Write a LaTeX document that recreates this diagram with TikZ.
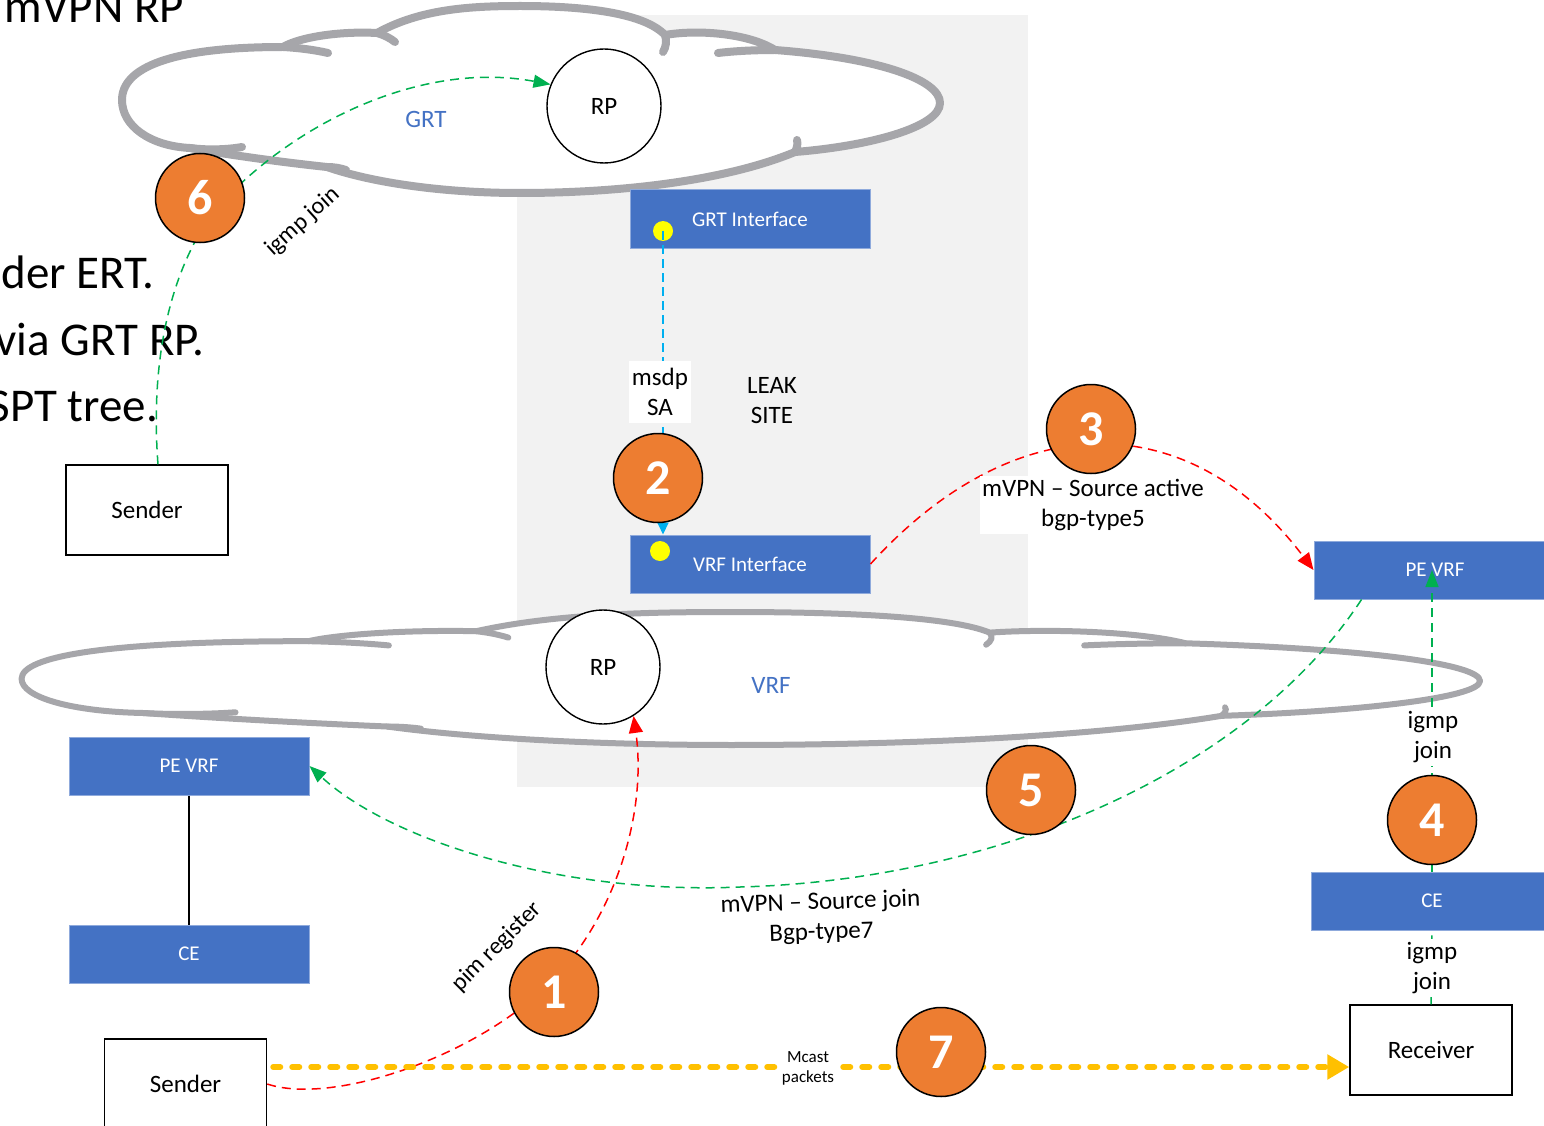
\documentclass[tikz,border=0pt]{standalone}
\usepackage{fontspec}
\setmainfont{Carlito}
\usetikzlibrary{arrows.meta}

\definecolor{boxblue}{HTML}{4472C4}
\definecolor{boxedge}{HTML}{8FAADC}
\definecolor{numorange}{HTML}{ED7D31}
\definecolor{cloudgray}{HTML}{A6A6AA}
\definecolor{leakbg}{HTML}{F2F2F2}
\definecolor{joingreen}{HTML}{00B050}
\definecolor{msdpblue}{HTML}{00B0F0}
\definecolor{mcastyellow}{HTML}{FFC000}
\definecolor{dotyellow}{HTML}{FFFF00}

% Cloud outline with its inner curls; drawn in its own frame (120..940 x 6..193)
\newcommand\cloudbody[1]{%
  \draw[draw=cloudgray, fill=white, line width=#1, line join=round]
    (190,148) .. controls (150,146) and (122,126) .. (122,100)
    .. controls (122,68) and (170,47) .. (283,47)
    .. controls (300,37) and (340,31) .. (377,33)
    .. controls (420,9) and (470,6) .. (520,6)
    .. controls (590,6) and (645,14) .. (665,35)
    .. controls (700,29) and (750,34) .. (775,50)
    .. controls (880,58) and (940,80) .. (940,103)
    .. controls (940,127) and (870,146) .. (795,152)
    .. controls (720,183) and (610,193) .. (520,193)
    .. controls (440,193) and (370,182) .. (327,167)
    .. controls (280,162) and (230,155) .. cycle;
  \draw[draw=cloudgray, line width=#1, line cap=round]
    (190,148) .. controls (205,150) and (225,150) .. (242,147)
    (283,47) .. controls (300,48) and (315,50) .. (328,53)
    (377,33) .. controls (384,35) and (390,38) .. (395,42)
    (665,35) .. controls (667,41) and (666,47) .. (663,52)
    (775,50) .. controls (755,50) and (735,51) .. (718,53)
    (795,152) .. controls (797,148) and (798,144) .. (797,140)
    (327,167) .. controls (334,167) and (340,168) .. (346,170);
}

\tikzset{
  numc/.style={circle, draw=black, line width=1.5pt, fill=numorange, minimum size=89pt,
    inner sep=0pt, text=white, font=\fontsize{50}{50}\selectfont\bfseries},
  rpc/.style={circle, draw=black, line width=1.4pt, fill=white, minimum size=114pt,
    inner sep=0pt, font=\fontsize{25}{30}\selectfont},
  bluebox/.style={rectangle, draw=boxedge, line width=1pt, fill=boxblue, text=white,
    minimum width=240pt, minimum height=58pt, inner sep=0pt, font=\fontsize{21}{25}\selectfont},
  plainbox/.style={rectangle, draw=black, line width=1.5pt, fill=white, minimum width=162pt,
    minimum height=90pt, inner sep=0pt, font=\fontsize{25}{30}\selectfont},
  lbl/.style={align=center, inner sep=0pt, font=\fontsize{25}{30}\selectfont},
  bglbl/.style={lbl, fill=white, inner xsep=2pt, inner ysep=3pt},
  bigtext/.style={anchor=base east, inner sep=0pt, font=\fontsize{47}{56}\selectfont},
  ydot/.style={circle, fill=dotyellow, minimum size=20pt, inner sep=0pt},
  redflow/.style={draw=red, line width=1.5pt, dash pattern=on 9pt off 6pt,
    -{Triangle[length=17pt,width=14pt]}},
  greenflow/.style={draw=joingreen, line width=1.5pt, dash pattern=on 9pt off 6pt,
    -{Triangle[length=17pt,width=13pt]}},
  greenplain/.style={draw=joingreen, line width=1.5pt, dash pattern=on 9pt off 6pt},
  msdpflow/.style={draw=msdpblue, line width=2pt, dash pattern=on 9pt off 5pt,
    -{Triangle[length=12pt,width=11pt]}},
  mcastflow/.style={draw=mcastyellow, line width=6pt, line cap=round, dash pattern=on 7pt off 12pt,
    -{Triangle[length=22pt,width=24pt]}},
}

\begin{document}
\begin{tikzpicture}[x=1pt, y=-1pt]
\useasboundingbox (0,0) rectangle (1544,1126);

% leak site backdrop
\fill[leakbg] (517,15) rectangle (1028,787);

% clouds
\cloudbody{8pt}
\begin{scope}[shift={(18,612)}, xscale=1.78293, yscale=0.7112, shift={(-120,-6)}]
  \cloudbody{6pt}
\end{scope}

% side text
\node[bigtext] (t0) at (184,23) {mVPN RP};
\node[bigtext] (t1) at (155,288) {der ERT.};
\node[bigtext] (t2) at (205,355) {via GRT RP.};
\node[bigtext] (t3) at (158,421) {SPT tree.};

% boxes
\node[bluebox] (grtint) at (750,219) {GRT Interface};
\node[bluebox] (vrfint) at (750,564) {VRF Interface};
\node[bluebox, minimum width=242pt] (pevrfR) at (1435,570) {PE VRF};
\node[bluebox, minimum width=242pt] (ceR) at (1432,901) {CE};
\node[bluebox] (pevrfL) at (189,766) {PE VRF};
\node[bluebox] (ceL) at (189,954) {CE};

\node[plainbox] (sendT) at (147,510) {Sender};
\node[plainbox] (sendB) at (185.5,1084) {Sender};
\node[plainbox] (recv) at (1431,1050) {Receiver};

% routers
\node[rpc] (rpG) at (604,106) {RP};
\node[rpc] (rpV) at (603,667) {RP};

% region labels
\node[lbl, text=boxblue] (grtlbl) at (426,119) {GRT};
\node[lbl, text=boxblue] (vrflbl) at (771,685) {VRF};
\node[lbl] (leak) at (772,401) {LEAK\\SITE};

% interface dots
\node[ydot] (dotG) at (663,231) {};
\node[ydot] (dotV) at (660,551) {};

% links
\draw[line width=1.5pt] (pevrfL) -- (ceL);
\draw[msdpflow] (dotG.center) -- (dotG.center |- vrfint.north);

\draw[greenflow] ([xshift=11pt]sendT.north)
  .. controls (150,360) and (170,270) .. (215,210)
  .. controls (290,125) and (420,60) .. (rpG.158);

\draw[redflow] (sendB.east)
  .. controls (330,1105) and (470,1060) .. (548,985)
  .. controls (610,925) and (648,820) .. (rpV.-58);

\draw[redflow] (vrfint.east) .. controls (1015,405) and (1189,405) .. (pevrfR.west);

\draw[greenflow] ([xshift=48pt]pevrfR.south west)
  .. controls (1250,770) and (1000,880) .. (740,887)
  .. controls (560,895) and (390,840) .. (pevrfL.east);

\draw[greenflow] (ceR.north) -- (ceR.north |- pevrfR.center);
\draw[greenplain] (recv.north) -- (ceR.south);

\draw[mcastflow] ([xshift=6pt,yshift=17pt]sendB.east) -- ([yshift=-17pt]recv.west);

% flow labels
\node[bglbl, minimum width=62pt, minimum height=62pt] (msdp) at (660,392) {msdp\\SA};
\node[bglbl] (salbl) at (1093,505) {mVPN – Source active\\bgp-type5};
\node[lbl, rotate=2] (sjlbl) at (821,918) {mVPN – Source join\\Bgp-type7};
\node[bglbl] (igmpT) at (1433,737) {igmp\\join};
\node[bglbl] (igmpB) at (1432,968) {igmp\\join};
\node[lbl, fill=white, inner xsep=1pt, inner ysep=1pt, font=\fontsize{17}{20}\selectfont] (mcast) at (808,1068) {Mcast\\packets};
\node[lbl, rotate=42, font=\fontsize{24}{28}\selectfont] (igmp6) at (303,222) {igmp join};
\node[lbl, rotate=45, font=\fontsize{24}{28}\selectfont] (pimreg) at (497,947) {pim register};

% step markers
\node[numc] (n1) at (554,992) {1};
\node[numc] (n2) at (658,478) {2};
\node[numc] (n3) at (1091,429) {3};
\node[numc] (n4) at (1432,820) {4};
\node[numc] (n5) at (1031,790) {5};
\node[numc] (n6) at (200,198) {6};
\node[numc] (n7) at (941,1052) {7};
\end{tikzpicture}
\end{document}
